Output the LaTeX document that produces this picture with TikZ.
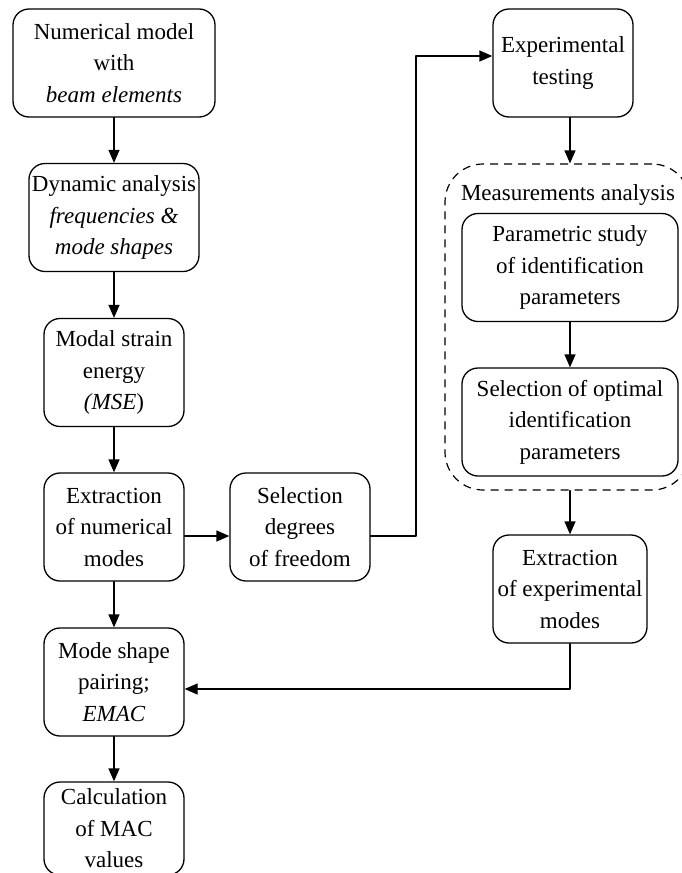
\documentclass[tikz,border=0pt]{standalone}
\usepackage{fontspec}
\setmainfont{Liberation Serif}
\usetikzlibrary{arrows.meta}
\begin{document}
\begin{tikzpicture}[x=1pt,y=-1pt,line cap=round,line join=round,
  font=\fontsize{23}{31.5}\selectfont,
  stage/.style={draw,line width=1.3pt,rounded corners=16pt,align=center,inner sep=2pt,minimum height=108pt},
  group/.style={draw,line width=1.2pt,line cap=butt,dash pattern=on 8pt off 6pt,rounded corners=38pt},
  flow/.style={line width=1.3pt,-{Triangle[length=13pt,width=11pt]}}]
  \useasboundingbox (0,0) rectangle (682,873);
  \node[stage,minimum width=202pt] (nummodel) at (114,63) {Numerical model\\with\\\textit{beam elements}};
  \node[stage,minimum width=170pt] (dynan) at (114,217.5) {Dynamic analysis\\\textit{frequencies \&}\\\textit{mode shapes}};
  \node[stage,minimum width=140pt] (mse) at (114,372.5) {Modal strain\\energy\\\textit{(MSE})};
  \node[stage,minimum width=140pt] (extnum) at (114,527) {Extraction\\of numerical\\modes};
  \node[stage,minimum width=140pt] (seldof) at (300,527) {Selection\\degrees\\of freedom};
  \node[stage,minimum width=140pt] (pairing) at (114,682) {Mode shape\\pairing;\\\textit{EMAC}};
  \node[stage,minimum width=140pt,minimum height=93pt] (calcmac) at (114,828.5) {Calculation\\of MAC\\values};
  \node[stage,minimum width=140pt] (exptest) at (563,63) {Experimental\\testing};
  \node[group,minimum width=245pt,minimum height=326pt] (measure) at (567.5,327) {};
  \node[anchor=base] (measlabel) at (568,200) {Measurements analysis};
  \node[stage,minimum width=216pt] (param) at (570,267.5) {Parametric study\\of identification\\parameters};
  \node[stage,minimum width=216pt] (selopt) at (570,422) {Selection of optimal\\identification\\parameters};
  \node[stage,minimum width=154pt] (extexp) at (570,589) {Extraction\\of experimental\\modes};
  \coordinate (turn) at (416,56);
  \draw[flow] (nummodel) -- (dynan);
  \draw[flow] (dynan) -- (mse);
  \draw[flow] (mse) -- (extnum);
  \draw[flow] (extnum) -- (pairing);
  \draw[flow] (pairing) -- (calcmac);
  \draw[flow] ([yshift=-9pt]extnum.east) -- ([yshift=-9pt]seldof.west);
  \draw[flow] ([yshift=-9pt]seldof.east) -| (turn) -- ([yshift=7pt]exptest.west);
  \draw[flow] (param |- exptest.south) -- (param |- measure.north);
  \draw[flow] (param) -- (selopt);
  \draw[flow] (param |- measure.south) -- (extexp);
  \draw[flow] (extexp.south) |- ([yshift=-7pt]pairing.east);
\end{tikzpicture}
\end{document}
